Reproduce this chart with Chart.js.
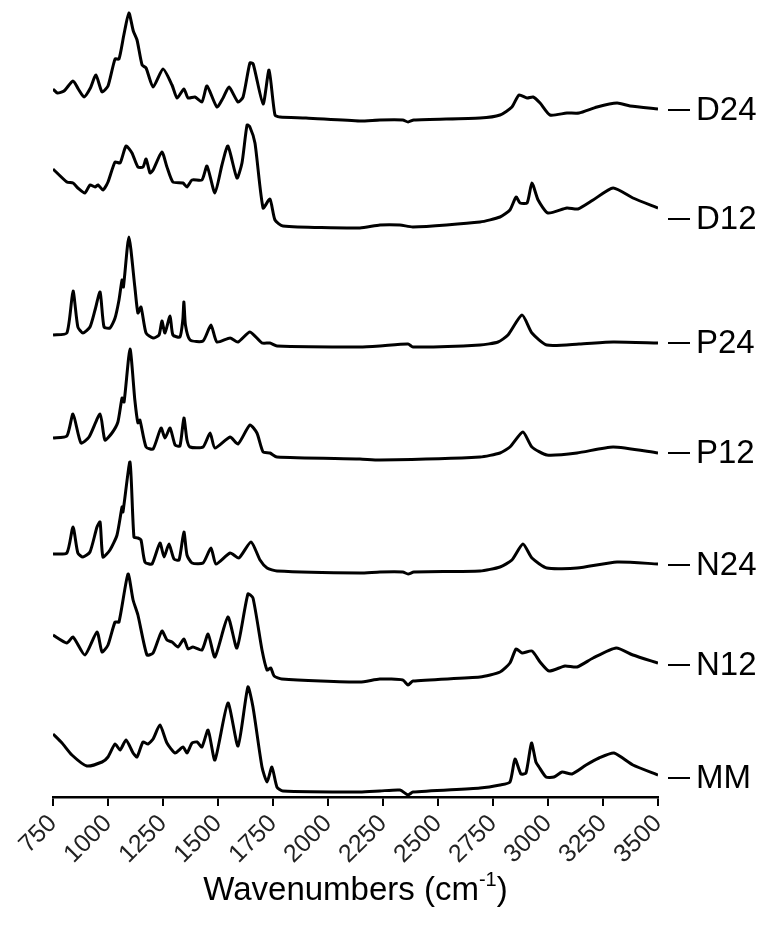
<!DOCTYPE html>
<html lang="en">
<head>
  <meta charset="UTF-8">
  <title>FTIR spectra</title>
  <script src="https://cdn.jsdelivr.net/npm/chart.js"></script>
  <style>
    body { margin: 0; background: #fff; }
    #wrap { width: 769px; height: 938px; }
  </style>
</head>
<body>
  <div id="wrap"><canvas id="ftir" width="769" height="938"></canvas></div>

  <script>
    // x axis (wavenumbers, cm-1)
    const xMin = 750;
    const xMax = 3500;
    const xStep = 250;

    // sample names, top to bottom
    const sampleNames = ["D24", "D12", "P24", "P12", "N24", "N12", "MM"];

    // stacked spectra: [wavenumber, offset intensity (a.u.)]
    const D24 = [[750,70.8],[770,70.4],[800,70.6],[841,71.6],[865,70.8],[891,70.0],[920,70.9],[945,72.2],[973,70.5],[1000,71.1],[1032,73.8],[1050,73.8],[1072,76.2],[1095,78.4],[1115,76.6],[1132,75.7],[1155,73.2],[1173,72.9],[1205,71.0],[1250,72.8],[1291,71.2],[1314,69.9],[1345,70.8],[1364,69.9],[1395,70.0],[1427,69.5],[1450,71.1],[1495,69.0],[1523,69.9],[1550,71.0],[1591,69.5],[1614,70.0],[1645,73.4],[1660,73.3],[1705,69.3],[1732,72.7],[1759,68.2],[1782,68.0],[1900,67.9],[2145,67.6],[2236,67.7],[2340,67.7],[2364,67.5],[2390,67.7],[2691,67.9],[2782,68.2],[2836,69.0],[2868,70.2],[2905,69.9],[2932,70.0],[2964,69.4],[3009,68.2],[3086,68.4],[3141,68.4],[3223,69.0],[3314,69.4],[3373,69.1],[3500,68.8]];
    const D12 = [[750,62.8],[813,61.5],[841,61.4],[863,60.9],[895,60.4],[918,61.2],[941,61.0],[955,61.2],[977,60.7],[1000,61.5],[1032,63.5],[1055,63.4],[1082,65.1],[1109,64.4],[1136,63.0],[1159,63.0],[1173,63.8],[1191,62.4],[1205,62.7],[1245,64.5],[1268,63.0],[1295,61.5],[1341,61.4],[1359,61.0],[1382,61.7],[1427,61.7],[1450,63.1],[1486,60.4],[1518,63.2],[1545,65.1],[1586,61.9],[1609,63.4],[1632,67.2],[1645,67.0],[1668,65.4],[1705,58.9],[1736,59.8],[1759,57.7],[1795,57.1],[2145,56.9],[2236,57.2],[2327,57.2],[2386,57.0],[2691,57.5],[2782,58.0],[2827,58.7],[2855,60.0],[2873,59.4],[2905,59.4],[2927,61.4],[2955,59.7],[3000,58.4],[3086,58.9],[3136,58.8],[3205,59.7],[3296,60.9],[3386,59.9],[3500,58.9]];
    const P24 = [[750,46.2],[813,46.4],[841,50.6],[863,47.0],[886,46.4],[918,47.0],[941,48.7],[964,50.5],[982,47.0],[1009,46.9],[1032,47.9],[1050,49.7],[1064,51.7],[1070,51.0],[1095,56.0],[1122,51.0],[1136,48.4],[1150,49.0],[1173,46.4],[1205,45.9],[1232,46.2],[1245,47.6],[1259,46.4],[1282,48.1],[1295,46.2],[1327,46.0],[1340,47.7],[1345,49.5],[1352,47.2],[1373,45.7],[1432,45.6],[1468,47.2],[1495,45.5],[1555,45.9],[1591,45.5],[1645,46.5],[1700,45.4],[1736,45.4],[1768,45.1],[2145,45.0],[2236,45.1],[2364,45.3],[2386,45.0],[2691,45.2],[2773,45.5],[2818,46.2],[2882,48.2],[2927,46.4],[2995,45.2],[3141,45.3],[3296,45.5],[3500,45.4]];
    const P12 = [[750,35.9],[813,36.1],[841,38.3],[877,35.4],[914,36.0],[964,38.3],[986,35.7],[1018,36.4],[1045,37.5],[1064,39.9],[1073,39.5],[1100,44.8],[1122,39.7],[1136,37.4],[1145,37.7],[1173,35.0],[1205,34.8],[1241,36.9],[1259,35.9],[1282,36.9],[1305,35.2],[1327,35.1],[1345,37.9],[1359,35.7],[1373,35.0],[1432,35.0],[1464,36.4],[1486,34.9],[1555,36.0],[1591,35.3],[1645,37.2],[1677,36.4],[1705,34.5],[1736,34.4],[1768,34.0],[2145,33.8],[2236,33.7],[2691,34.0],[2782,34.4],[2827,35.0],[2886,36.5],[2927,35.0],[2995,34.2],[3132,34.4],[3296,35.0],[3500,34.4]];
    const N24 = [[750,24.3],[813,24.4],[841,27.0],[863,24.4],[886,24.0],[918,24.5],[950,27.0],[964,27.5],[977,24.0],[1009,24.7],[1041,26.2],[1064,29.0],[1068,28.5],[1100,33.5],[1118,26.0],[1136,25.9],[1150,25.7],[1168,23.5],[1200,23.3],[1236,25.4],[1255,24.0],[1277,25.3],[1300,23.8],[1323,23.7],[1345,26.5],[1359,24.2],[1382,23.4],[1432,23.4],[1468,24.9],[1491,23.3],[1555,24.4],[1595,23.9],[1650,25.5],[1691,23.7],[1723,22.9],[1768,22.6],[2145,22.4],[2236,22.5],[2340,22.5],[2364,22.3],[2390,22.5],[2691,22.6],[2782,23.0],[2836,23.7],[2886,25.3],[2927,23.9],[2995,22.9],[3132,22.9],[3314,23.5],[3500,23.3]];
    const N12 = [[750,16.2],[813,15.4],[841,16.0],[895,14.2],[950,16.5],[973,14.5],[1000,15.2],[1032,17.5],[1050,17.5],[1091,22.3],[1114,19.7],[1136,18.2],[1177,14.2],[1205,14.4],[1245,16.6],[1268,15.7],[1291,15.5],[1318,15.0],[1345,15.8],[1364,14.8],[1386,15.0],[1427,14.7],[1455,16.3],[1486,14.0],[1545,18.0],[1586,14.9],[1636,20.3],[1659,19.9],[1700,14.7],[1723,12.7],[1740,12.9],[1755,12.1],[1790,11.8],[2145,11.5],[2236,11.8],[2340,11.7],[2364,11.2],[2386,11.6],[2691,12.0],[2782,12.5],[2827,13.4],[2855,14.8],[2882,14.4],[2927,14.6],[2964,13.5],[3005,12.6],[3077,13.1],[3132,13.0],[3205,13.9],[3310,14.9],[3386,14.2],[3500,13.4]];
    const MM = [[750,6.3],[791,5.4],[836,4.2],[904,3.1],[973,3.5],[1000,4.0],[1032,5.3],[1055,4.7],[1082,5.7],[1114,4.4],[1132,4.0],[1159,5.5],[1182,5.3],[1205,5.8],[1236,7.2],[1268,5.4],[1305,4.4],[1341,5.0],[1359,4.4],[1382,5.4],[1405,5.5],[1427,5.0],[1455,6.7],[1486,3.7],[1545,9.4],[1591,5.1],[1636,11.0],[1659,9.0],[1700,3.0],[1723,1.5],[1745,3.0],[1768,1.0],[1795,0.6],[2145,0.5],[2236,0.6],[2327,0.7],[2364,0.2],[2386,0.5],[2691,0.9],[2782,1.2],[2827,1.5],[2850,3.8],[2877,2.3],[2900,2.4],[2925,5.4],[2945,3.5],[2959,3.0],[2991,2.0],[3027,2.0],[3064,2.5],[3109,2.3],[3173,3.2],[3232,3.9],[3300,4.4],[3386,3.2],[3500,2.2]];

    const spectra = [D24, D12, P24, P12, N24, N12, MM];

    // where each name tag sits (a.u.), next to the end of its trace
    const tagLevels = [68.7, 57.8, 45.4, 34.4, 23.2, 13.2, 1.9];

    const fontFamily = "'Liberation Sans', Arial, sans-serif";

    const sideLabels = {
      id: "sideLabels",
      afterDraw(chart) {
        const ctx = chart.ctx;
        const area = chart.chartArea;
        const y = chart.scales.y;
        ctx.save();
        ctx.strokeStyle = "#000";
        ctx.lineWidth = 2;
        ctx.fillStyle = "#000";
        ctx.font = "33px " + fontFamily;
        ctx.textBaseline = "middle";
        sampleNames.forEach((name, i) => {
          const py = y.getPixelForValue(tagLevels[i]);
          ctx.beginPath();
          ctx.moveTo(area.right + 10, py);
          ctx.lineTo(area.right + 32, py);
          ctx.stroke();
          ctx.fillText(name, area.right + 38, py + 1);
        });
        ctx.restore();
      }
    };

    const axisTitle = {
      id: "axisTitle",
      afterDraw(chart) {
        const ctx = chart.ctx;
        const area = chart.chartArea;
        ctx.save();
        ctx.fillStyle = "#000";
        ctx.textBaseline = "alphabetic";
        const main = "Wavenumbers (cm";
        const sup = "-1";
        const end = ")";
        ctx.font = "33px " + fontFamily;
        const w1 = ctx.measureText(main).width;
        const w3 = ctx.measureText(end).width;
        ctx.font = "20px " + fontFamily;
        const w2 = ctx.measureText(sup).width;
        const cx = (area.left + area.right) / 2;
        const base = area.bottom + 103;
        let x = cx - (w1 + w2 + w3) / 2;
        ctx.font = "33px " + fontFamily;
        ctx.fillText(main, x, base);
        x += w1;
        ctx.font = "20px " + fontFamily;
        ctx.fillText(sup, x, base - 14);
        x += w2;
        ctx.font = "33px " + fontFamily;
        ctx.fillText(end, x, base);
        ctx.restore();
      }
    };

    new Chart(document.getElementById("ftir"), {
      type: "line",
      data: {
        datasets: spectra.map((s, i) => ({
          label: sampleNames[i],
          data: s.map(p => ({ x: p[0], y: p[1] })),
          borderColor: "#000",
          borderWidth: 3,
          pointRadius: 0,
          fill: false,
          tension: 0.2
        }))
      },
      options: {
        responsive: false,
        animation: false,
        layout: { padding: { left: 53, right: 111, top: 5, bottom: 0 } },
        plugins: { legend: { display: false }, tooltip: { enabled: false } },
        scales: {
          x: {
            type: "linear",
            min: xMin,
            max: xMax,
            afterFit: s => { s.height = 141; },
            border: { display: true, color: "#000", width: 2.5 },
            grid: { drawOnChartArea: false, drawTicks: true, tickLength: 9, color: "#000", lineWidth: 2 },
            ticks: {
              stepSize: xStep,
              minRotation: 45,
              maxRotation: 45,
              padding: 3,
              color: "#222",
              font: { size: 25, family: fontFamily },
              callback: v => String(v)
            }
          },
          y: { display: false, min: 0, max: 79.2 }
        }
      },
      plugins: [sideLabels, axisTitle]
    });
  </script>
</body>
</html>
